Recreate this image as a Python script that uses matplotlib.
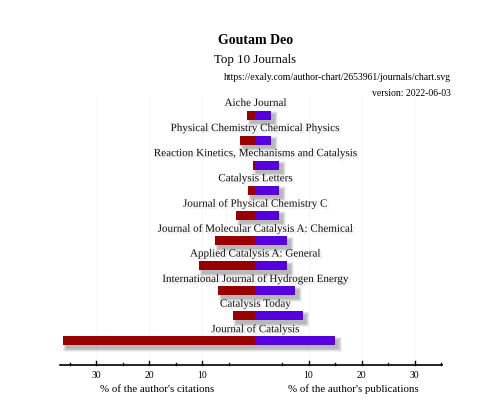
import matplotlib
matplotlib.use("Agg")
from matplotlib import pyplot as plt
from matplotlib import patheffects as pe
from matplotlib.patches import Rectangle

journals = ["Aiche Journal",
            "Physical Chemistry Chemical Physics",
            "Reaction Kinetics, Mechanisms and Catalysis",
            "Catalysis Letters",
            "Journal of Physical Chemistry C",
            "Journal of Molecular Catalysis A: Chemical",
            "Applied Catalysis A: General",
            "International Journal of Hydrogen Energy",
            "Catalysis Today",
            "Journal of Catalysis"]
citations = [1.6, 3.0, 0.5, 1.5, 3.6, 7.7, 10.7, 7.0, 4.3, 36.4]
publications = [3.0, 3.0, 4.5, 4.5, 4.5, 6.0, 6.0, 7.5, 8.9, 15.0]
tick_values = [10, 20, 30]

RED = "#990000"
BLUE = "#5500dd"
W, H = 502, 400
CX = 255.5      # pixel of the zero line
PX_PER_PCT = 5.3
ROW0, ROW_H = 115, 25.1

plt.rcParams["font.family"] = ["Liberation Serif", "DejaVu Serif"]
fig = plt.figure(figsize=(W / 100, H / 100), dpi=100)
ax = fig.add_axes([0, 0, 1, 1])
ax.set_xlim(-CX / PX_PER_PCT, (W - CX) / PX_PER_PCT)
ax.set_ylim((H - ROW0) / ROW_H, -ROW0 / ROW_H)
ax.axis("off")

sx = 3.5 / PX_PER_PCT   # shadow offset in data units
sy = 3.5 / ROW_H
bar_h = 9 / ROW_H
text_shadow = [pe.SimplePatchShadow(offset=(1.5, -1.5), shadow_rgbFace="#999999", alpha=0.25), pe.Normal()]

for i, (name, c, p) in enumerate(zip(journals, citations, publications)):
    # soft shadow: stacked translucent boxes, wider ones fainter
    for k in [3.0, 2.5, 2.0, 1.5, 1.0, 0.5, 0.0]:
        ex = k / PX_PER_PCT
        ey = k / ROW_H
        ax.add_patch(Rectangle((-c + sx - ex, i - bar_h / 2 + sy - ey), c + p + 2 * ex, bar_h + 2 * ey,
                               facecolor="black", alpha=0.045, lw=0, zorder=1))
    ax.barh(i, -c, height=bar_h, color=RED, zorder=2)
    ax.barh(i, p, height=bar_h, color=BLUE, zorder=2)
    ax.text(0, i - 0.46, name, ha="center", va="center", fontsize=8, color="#111111",
            path_effects=text_shadow, zorder=4)

axis_y = (365 - ROW0) / ROW_H
left_end = -(CX - 60) / PX_PER_PCT
right_end = (442 - CX) / PX_PER_PCT

# very faint grid lines
for v in tick_values:
    for s in (-1, 1):
        ax.plot([s * v, s * v], [-0.8, axis_y], color="black", alpha=0.03, lw=0.8, zorder=3)

ax.plot([left_end, right_end], [axis_y, axis_y], color="black", lw=1.2, zorder=3)
for s in (-1, 1):
    for v in [5, 10, 15, 20, 25, 30, 35]:
        major = v % 10 == 0
        ln = (4.5 if major else 2) / ROW_H
        ax.plot([s * v, s * v], [axis_y, axis_y - ln], color="black", lw=1, zorder=3)
    for v in tick_values:
        ax.text(s * v, axis_y + 10 / ROW_H, str(v), ha="center", va="center", fontsize=7)

ax.text((157.5 - CX) / PX_PER_PCT, axis_y + 24 / ROW_H, "% of the author's citations",
        ha="center", va="center", fontsize=7.8)
ax.text((353.5 - CX) / PX_PER_PCT, axis_y + 24 / ROW_H, "% of the author's publications",
        ha="center", va="center", fontsize=7.8)

fig.text(255.5 / W, 1 - 40 / H, "Goutam Deo", ha="center", va="center", fontsize=10, fontweight="bold")
fig.text(255.5 / W, 1 - 60 / H, "Top 10 Journals", ha="center", va="center", fontsize=9.3)
fig.text(451 / W, 1 - 77 / H, "https://exaly.com/author-chart/2653961/journals/chart.svg",
         ha="right", va="center", fontsize=7)
fig.text(451 / W, 1 - 93 / H, "version: 2022-06-03", ha="right", va="center", fontsize=7)

fig.savefig("out.png", dpi=100)
